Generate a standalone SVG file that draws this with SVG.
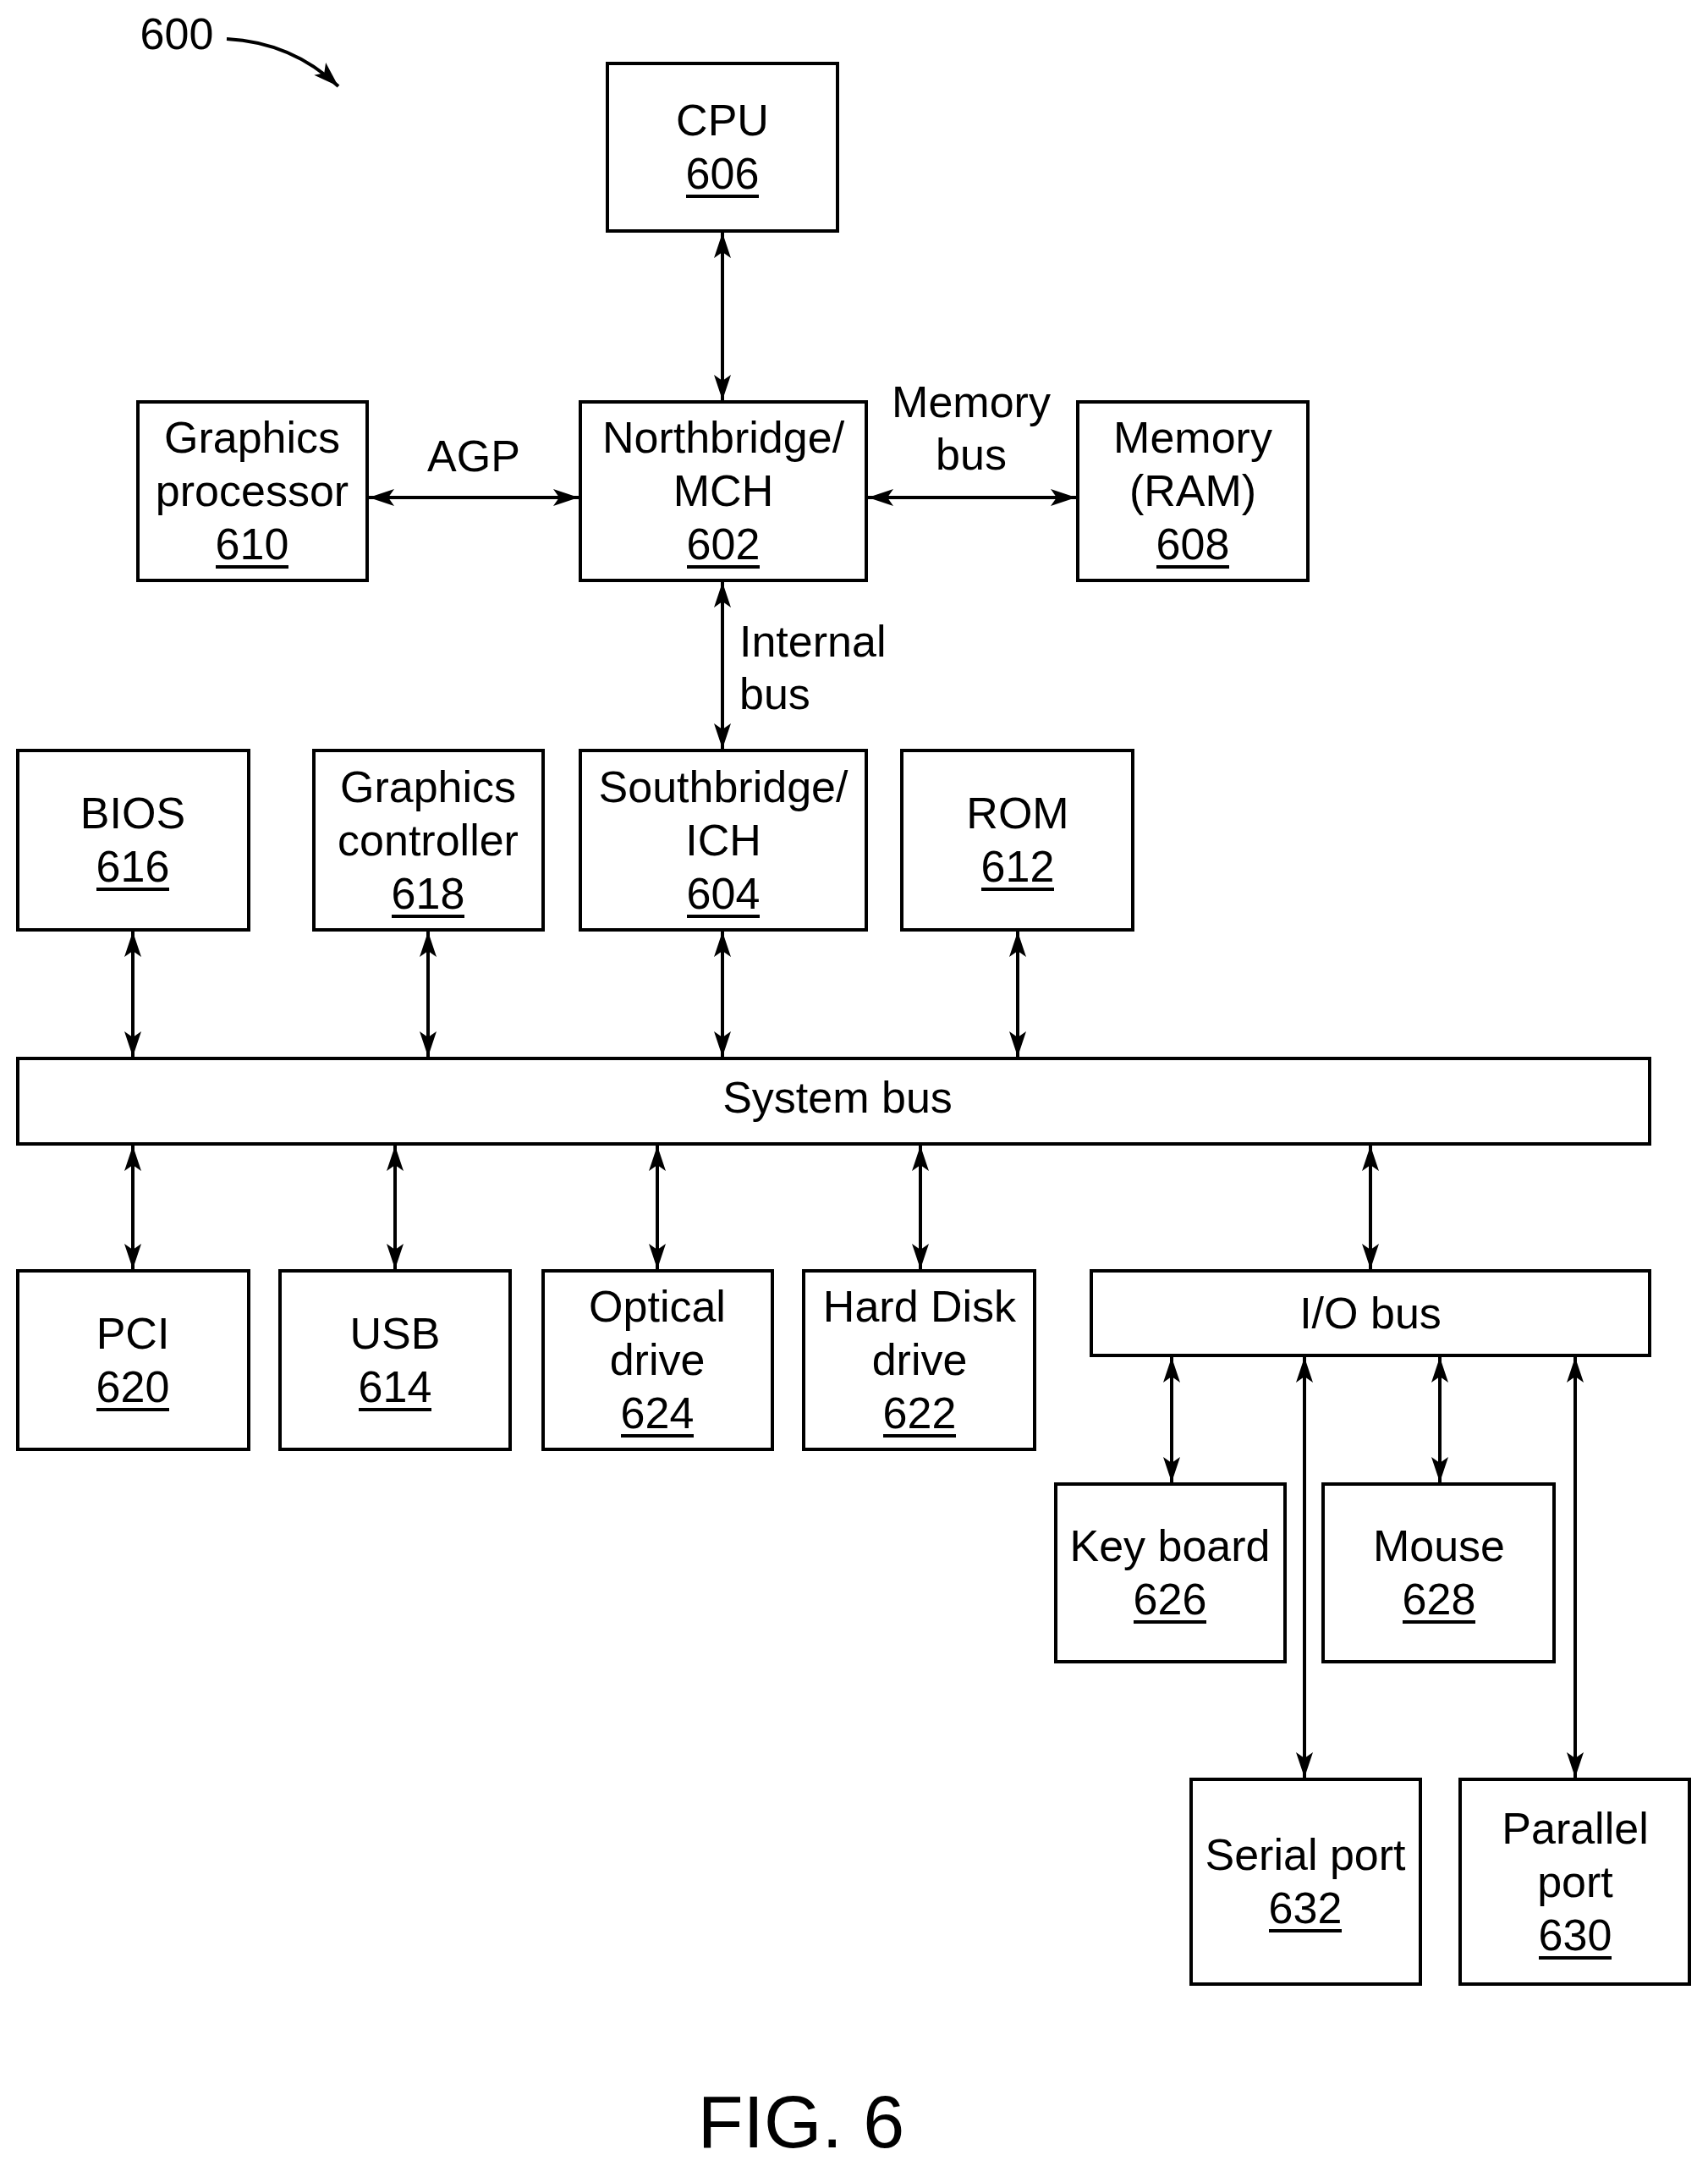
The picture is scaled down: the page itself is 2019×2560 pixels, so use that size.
<svg xmlns="http://www.w3.org/2000/svg" width="2019" height="2560" viewBox="0 0 2019 2560">
<style>
.b{fill:#fff;stroke:#000;stroke-width:4}
text{font-family:"Liberation Sans",Arial,sans-serif;font-size:52px;fill:#000;text-anchor:middle}
.u{stroke:#000;stroke-width:4}
.c line,.c path{stroke:#000;stroke-width:4;fill:none}
</style>
<defs>
<marker id="a" markerUnits="userSpaceOnUse" markerWidth="34" markerHeight="24" refX="30" refY="10" orient="auto-start-reverse" viewBox="0 0 34 20">
<path d="M0,0 L30,10 L0,20 L7,10 Z" fill="#000"/>
</marker>
</defs>
<rect width="2019" height="2560" fill="#fff"/>
<g id="label600"><text x="209" y="58">600</text></g>
<g class="c" id="connectors">
<path d="M268,46 Q345,50 400,102" marker-end="url(#a)"/>
<line x1="854" y1="275" x2="854" y2="473" marker-start="url(#a)" marker-end="url(#a)"/>
<line x1="436" y1="588" x2="684" y2="588" marker-start="url(#a)" marker-end="url(#a)"/>
<line x1="1026" y1="588" x2="1272" y2="588" marker-start="url(#a)" marker-end="url(#a)"/>
<line x1="854" y1="688" x2="854" y2="885" marker-start="url(#a)" marker-end="url(#a)"/>
<line x1="157" y1="1101" x2="157" y2="1249" marker-start="url(#a)" marker-end="url(#a)"/>
<line x1="506" y1="1101" x2="506" y2="1249" marker-start="url(#a)" marker-end="url(#a)"/>
<line x1="854" y1="1101" x2="854" y2="1249" marker-start="url(#a)" marker-end="url(#a)"/>
<line x1="1203" y1="1101" x2="1203" y2="1249" marker-start="url(#a)" marker-end="url(#a)"/>
<line x1="157" y1="1354" x2="157" y2="1500" marker-start="url(#a)" marker-end="url(#a)"/>
<line x1="467" y1="1354" x2="467" y2="1500" marker-start="url(#a)" marker-end="url(#a)"/>
<line x1="777" y1="1354" x2="777" y2="1500" marker-start="url(#a)" marker-end="url(#a)"/>
<line x1="1088" y1="1354" x2="1088" y2="1500" marker-start="url(#a)" marker-end="url(#a)"/>
<line x1="1620" y1="1354" x2="1620" y2="1500" marker-start="url(#a)" marker-end="url(#a)"/>
<line x1="1385" y1="1604" x2="1385" y2="1752" marker-start="url(#a)" marker-end="url(#a)"/>
<line x1="1702" y1="1604" x2="1702" y2="1752" marker-start="url(#a)" marker-end="url(#a)"/>
<line x1="1542" y1="1604" x2="1542" y2="2101" marker-start="url(#a)" marker-end="url(#a)"/>
<line x1="1862" y1="1604" x2="1862" y2="2101" marker-start="url(#a)" marker-end="url(#a)"/>
<text x="560" y="557">AGP</text>
<text x="1148" y="493">Memory</text><text x="1148" y="555">bus</text>
<text x="874" y="776" style="text-anchor:start">Internal</text><text x="874" y="838" style="text-anchor:start">bus</text>
</g>
<g id="cpu"><rect class="b" x="718" y="75" width="272" height="198"/><text x="854" y="160">CPU</text><text x="854" y="223">606</text><line class="u" x1="811" y1="232" x2="897" y2="232"/></g>
<g id="gp"><rect class="b" x="163" y="475" width="271" height="211"/><text x="298" y="535">Graphics</text><text x="298" y="598">processor</text><text x="298" y="661">610</text><line class="u" x1="255" y1="670" x2="341" y2="670"/></g>
<g id="nb"><rect class="b" x="686" y="475" width="338" height="211"/><text x="855" y="535">Northbridge/</text><text x="855" y="598">MCH</text><text x="855" y="661">602</text><line class="u" x1="812" y1="670" x2="898" y2="670"/></g>
<g id="ram"><rect class="b" x="1274" y="475" width="272" height="211"/><text x="1410" y="535">Memory</text><text x="1410" y="598">(RAM)</text><text x="1410" y="661">608</text><line class="u" x1="1367" y1="670" x2="1453" y2="670"/></g>
<g id="bios"><rect class="b" x="21" y="887" width="273" height="212"/><text x="157" y="979">BIOS</text><text x="157" y="1042">616</text><line class="u" x1="114" y1="1051" x2="200" y2="1051"/></g>
<g id="gc"><rect class="b" x="371" y="887" width="271" height="212"/><text x="506" y="948">Graphics</text><text x="506" y="1011">controller</text><text x="506" y="1074">618</text><line class="u" x1="463" y1="1083" x2="549" y2="1083"/></g>
<g id="sb"><rect class="b" x="686" y="887" width="338" height="212"/><text x="855" y="948">Southbridge/</text><text x="855" y="1011">ICH</text><text x="855" y="1074">604</text><line class="u" x1="812" y1="1083" x2="898" y2="1083"/></g>
<g id="rom"><rect class="b" x="1066" y="887" width="273" height="212"/><text x="1203" y="979">ROM</text><text x="1203" y="1042">612</text><line class="u" x1="1160" y1="1051" x2="1246" y2="1051"/></g>
<g id="sysbus"><rect class="b" x="21" y="1251" width="1929" height="101"/><text x="990" y="1315">System bus</text></g>
<g id="pci"><rect class="b" x="21" y="1502" width="273" height="211"/><text x="157" y="1594">PCI</text><text x="157" y="1657">620</text><line class="u" x1="114" y1="1666" x2="200" y2="1666"/></g>
<g id="usb"><rect class="b" x="331" y="1502" width="272" height="211"/><text x="467" y="1594">USB</text><text x="467" y="1657">614</text><line class="u" x1="424" y1="1666" x2="510" y2="1666"/></g>
<g id="optical"><rect class="b" x="642" y="1502" width="271" height="211"/><text x="777" y="1562">Optical</text><text x="777" y="1625">drive</text><text x="777" y="1688">624</text><line class="u" x1="734" y1="1697" x2="820" y2="1697"/></g>
<g id="hdd"><rect class="b" x="950" y="1502" width="273" height="211"/><text x="1087" y="1562">Hard Disk</text><text x="1087" y="1625">drive</text><text x="1087" y="1688">622</text><line class="u" x1="1044" y1="1697" x2="1130" y2="1697"/></g>
<g id="iobus"><rect class="b" x="1290" y="1502" width="660" height="100"/><text x="1620" y="1570">I/O bus</text></g>
<g id="kb"><rect class="b" x="1248" y="1754" width="271" height="210"/><text x="1383" y="1845">Key board</text><text x="1383" y="1908">626</text><line class="u" x1="1340" y1="1917" x2="1426" y2="1917"/></g>
<g id="mouse"><rect class="b" x="1564" y="1754" width="273" height="210"/><text x="1701" y="1845">Mouse</text><text x="1701" y="1908">628</text><line class="u" x1="1658" y1="1917" x2="1744" y2="1917"/></g>
<g id="serial"><rect class="b" x="1408" y="2103" width="271" height="242"/><text x="1543" y="2210">Serial port</text><text x="1543" y="2273">632</text><line class="u" x1="1500" y1="2282" x2="1586" y2="2282"/></g>
<g id="parallel"><rect class="b" x="1726" y="2103" width="271" height="242"/><text x="1862" y="2179">Parallel</text><text x="1862" y="2242">port</text><text x="1862" y="2305">630</text><line class="u" x1="1819" y1="2314" x2="1905" y2="2314"/></g>
<g id="fig"><text x="947" y="2538" style="font-size:88px">FIG. 6</text></g>
</svg>
